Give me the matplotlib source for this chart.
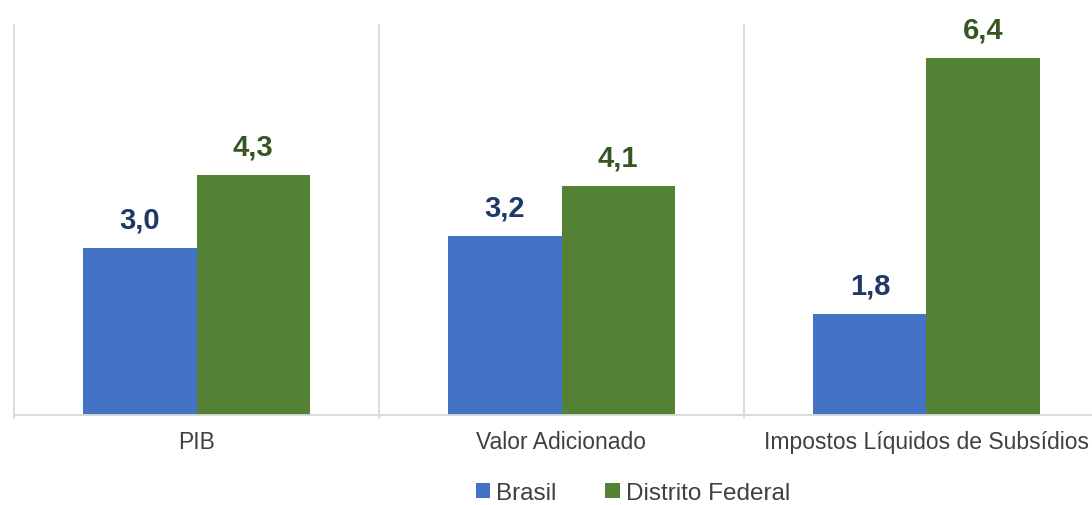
import matplotlib.pyplot as plt
import numpy as np

categorias = ['PIB', 'Valor Adicionado', 'Impostos Líquidos de Subsídios']
brasil = [3.0, 3.2, 1.8]
df = [4.3, 4.1, 6.4]
series = ['Brasil', 'Distrito Federal']

plt.rcParams['font.family'] = ['Liberation Sans', 'DejaVu Sans']

fig = plt.figure(figsize=(10.92, 5.06), dpi=100)
# the axes run past the right edge, as in the cropped original
ax = fig.add_axes([14/1092, (506-415.5)/506, 1095/1092, (415.5-26)/506])

x = np.arange(len(categorias))
w = 0.31
b1 = ax.bar(x - w/2, brasil, w, color='#4472C4', label=series[0])
b2 = ax.bar(x + w/2, df, w, color='#548235', label=series[1])

for rect, v in zip(b1, brasil):
    ax.text(rect.get_x() + rect.get_width()/2, v + 0.26, f'{v:.1f}'.replace('.', ','),
            ha='center', va='bottom', fontsize=21, fontweight='bold', color='#203864')
for rect, v in zip(b2, df):
    ax.text(rect.get_x() + rect.get_width()/2, v + 0.26, f'{v:.1f}'.replace('.', ','),
            ha='center', va='bottom', fontsize=21, fontweight='bold', color='#375623')

ax.set_xlim(-0.5, len(categorias) - 0.5)
ax.set_ylim(0, 7)
ax.set_xticks(x)
ax.set_xticklabels(categorias, fontsize=16.5, color='#404040')
ax.tick_params(axis='x', length=0, pad=11)
ax.set_yticks([])

# category separators
for s in np.arange(-0.5, len(categorias), 1):
    ax.axvline(s, color='#D9D9D9', lw=1.3, ymin=-0.008, clip_on=False)

for sp in ['top', 'right', 'left']:
    ax.spines[sp].set_visible(False)
ax.spines['bottom'].set_color('#D9D9D9')
ax.spines['bottom'].set_linewidth(1.3)

fig.legend(loc='center', bbox_to_anchor=(633/1092, 1 - 494/506), ncol=2, frameon=False,
           fontsize=17.5, handlelength=0.6, handleheight=0.6, handletextpad=0.25,
           columnspacing=2.0, labelcolor='#404040')

fig.savefig('out.png', dpi=100)
